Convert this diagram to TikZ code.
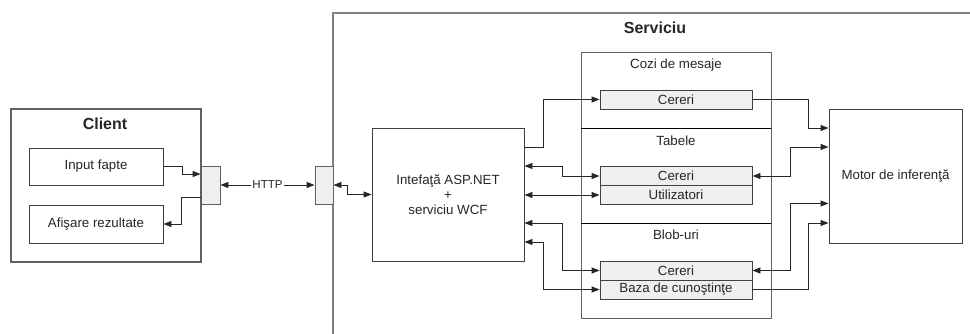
\documentclass[tikz,border=0pt]{standalone}
\usepackage{fontspec}
\setmainfont{Liberation Sans}
\usetikzlibrary{arrows.meta}
\definecolor{boxline}{HTML}{404040}
\definecolor{grpline}{HTML}{606060}
\definecolor{svcline}{HTML}{808080}
\definecolor{portfill}{HTML}{EFEFEF}
\definecolor{txt}{HTML}{262626}
\tikzset{
  box/.style={draw=boxline, line width=0.9pt, fill=white, inner sep=0pt, text=txt, font=\fontsize{13.3}{15}\selectfont, align=center},
  cell/.style={box, fill=portfill, minimum width=152pt, minimum height=19pt},
  port/.style={draw=grpline, line width=0.9pt, fill=portfill, inner sep=0pt},
  lbl/.style={text=txt, font=\fontsize{13.3}{15}\selectfont, inner sep=0pt},
  title/.style={text=txt, font=\bfseries\fontsize{16}{19}\selectfont, inner sep=0pt},
  conn/.style={draw=black!85, line width=0.9pt},
  arr/.style={conn, -{Triangle[length=8pt,width=6pt]}},
  darr/.style={conn, {Triangle[length=8pt,width=6pt]}-{Triangle[length=8pt,width=6pt]}},
}
\begin{document}
\begin{tikzpicture}[x=1pt,y=-1pt]
\useasboundingbox (0,0) rectangle (970,334);
% service frame (cropped)
\draw[svcline, line width=2pt] (333,334) -- (333,13) -- (971,13);
\node[title] (svct) at (655,28) {Serviciu};
% client
\node[box, draw=grpline, line width=1.4pt, minimum width=190pt, minimum height=153pt] (client) at (106,185.5) {};
\node[title] (clientt) at (105,124) {Client};
\node[box, minimum width=134pt, minimum height=37pt] (in) at (96,166.5) {Input fapte};
\node[box, minimum width=134pt, minimum height=38pt] (af) at (96,224) {Afişare rezultate};
\node[port, minimum width=19pt, minimum height=38pt] (cport) at (210.5,185) {};
\node[port, minimum width=18pt, minimum height=38pt] (sport) at (324,185) {};
% interface
\node[box, minimum width=152pt, minimum height=133pt] (iface) at (448,194.5) {Intefaţă ASP.NET\\[0pt]+\\[0pt]serviciu WCF};
% storage group
\draw[grpline, line width=0.9pt] (581,52) rectangle (771,318);
\coordinate (d1l) at (581,128); \coordinate (d1r) at (771,128);
\coordinate (d2l) at (581,223); \coordinate (d2r) at (771,223);
\draw[black, line width=0.9pt] (d1l) -- (d1r);
\draw[black, line width=0.9pt] (d2l) -- (d2r);
\node[lbl] (gq) at (676,65) {Cozi de mesaje};
\node[lbl] (gt) at (676,141) {Tabele};
\node[lbl] (gb) at (676,235) {Blob-uri};
\node[cell] (qc) at (676,99.5) {Cereri};
\node[cell] (tc) at (676,176) {Cereri};
\node[cell] (tu) at (676,195) {Utilizatori};
\node[cell] (bc) at (676,270.5) {Cereri};
\node[cell] (bz) at (676,289.5) {Baza de cunoştinţe};
% motor
\node[box, minimum width=133pt, minimum height=134pt] (motor) at (895.5,176) {Motor de inferenţă};
% client connectors
\draw[arr] (in.east) -- ++(19,0) |- ([yshift=11pt]cport.west);
\draw[arr] ([yshift=-12pt]cport.west) -- ++(-19,0) |- (af.east);
\draw[darr] (cport.east) -- node[fill=white, inner sep=1pt, text=txt, font=\fontsize{11.5}{13}\selectfont] (http) {HTTP} (sport.west);
\draw[darr] (sport.east) -- ++(14,0) |- (iface.west);
% interface to storage
\draw[arr] ([yshift=47.5pt]iface.east) -- ++(19,0) |- (qc.west);
\draw[darr] ([yshift=28.5pt]iface.east) -- ++(38,0) |- (tc.west);
\draw[darr] (tu.west -| iface.east) -- (tu.west);
\draw[darr] ([yshift=-28.5pt]iface.east) -- ++(38,0) |- (bc.west);
\draw[darr] ([yshift=-47.5pt]iface.east) -- ++(19,0) |- (bz.west);
% storage to motor
\draw[arr] (qc.east) -- ++(56,0) |- ([yshift=48pt]motor.west);
\draw[darr] (tc.east) -- ++(38,0) |- ([yshift=29pt]motor.west);
\draw[darr] (bc.east) -- ++(38,0) |- ([yshift=-27.5pt]motor.west);
\draw[arr] (bz.east) -- ++(56,0) |- ([yshift=-47pt]motor.west);
\end{tikzpicture}
\end{document}
